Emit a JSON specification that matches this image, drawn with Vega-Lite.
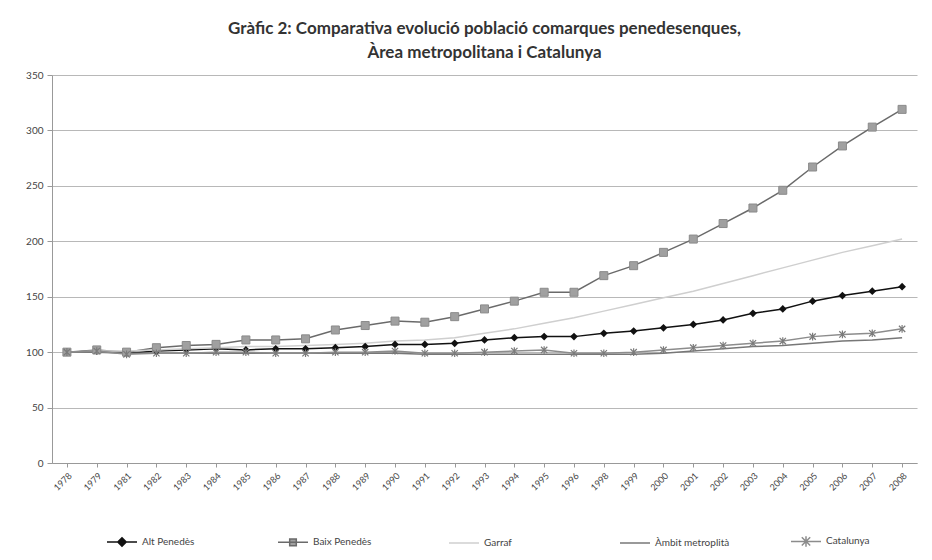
{
  "$schema": "https://vega.github.io/schema/vega-lite/v6.json",
  "width": 865,
  "height": 388,
  "autosize": "none",
  "padding": {"left": 52, "top": 75, "right": 15, "bottom": 97},
  "background": "white",
  "title": {
    "text": ["Gràfic 2: Comparativa evolució població comarques penedesenques,", "Àrea metropolitana i Catalunya"],
    "font": "Lato",
    "fontSize": 17,
    "fontWeight": "bold",
    "color": "#333333",
    "lineHeight": 24,
    "anchor": "middle",
    "offset": 8
  },
  "config": {
    "view": {"stroke": null},
    "axis": {"labelFont": "Lato", "labelColor": "#444444", "labelFontSize": 10, "domainColor": "#999999", "tickColor": "#999999"}
  },
  "data": {
    "values": [
      {"year": "1978", "series": "Alt Penedès", "value": 100},
      {"year": "1979", "series": "Alt Penedès", "value": 101},
      {"year": "1981", "series": "Alt Penedès", "value": 99},
      {"year": "1982", "series": "Alt Penedès", "value": 101},
      {"year": "1983", "series": "Alt Penedès", "value": 102},
      {"year": "1984", "series": "Alt Penedès", "value": 103},
      {"year": "1985", "series": "Alt Penedès", "value": 102},
      {"year": "1986", "series": "Alt Penedès", "value": 103},
      {"year": "1987", "series": "Alt Penedès", "value": 103},
      {"year": "1988", "series": "Alt Penedès", "value": 104},
      {"year": "1989", "series": "Alt Penedès", "value": 105},
      {"year": "1990", "series": "Alt Penedès", "value": 107},
      {"year": "1991", "series": "Alt Penedès", "value": 107},
      {"year": "1992", "series": "Alt Penedès", "value": 108},
      {"year": "1993", "series": "Alt Penedès", "value": 111},
      {"year": "1994", "series": "Alt Penedès", "value": 113},
      {"year": "1995", "series": "Alt Penedès", "value": 114},
      {"year": "1996", "series": "Alt Penedès", "value": 114},
      {"year": "1998", "series": "Alt Penedès", "value": 117},
      {"year": "1999", "series": "Alt Penedès", "value": 119},
      {"year": "2000", "series": "Alt Penedès", "value": 122},
      {"year": "2001", "series": "Alt Penedès", "value": 125},
      {"year": "2002", "series": "Alt Penedès", "value": 129},
      {"year": "2003", "series": "Alt Penedès", "value": 135},
      {"year": "2004", "series": "Alt Penedès", "value": 139},
      {"year": "2005", "series": "Alt Penedès", "value": 146},
      {"year": "2006", "series": "Alt Penedès", "value": 151},
      {"year": "2007", "series": "Alt Penedès", "value": 155},
      {"year": "2008", "series": "Alt Penedès", "value": 159},

      {"year": "1978", "series": "Baix Penedès", "value": 100},
      {"year": "1979", "series": "Baix Penedès", "value": 102},
      {"year": "1981", "series": "Baix Penedès", "value": 100},
      {"year": "1982", "series": "Baix Penedès", "value": 104},
      {"year": "1983", "series": "Baix Penedès", "value": 106},
      {"year": "1984", "series": "Baix Penedès", "value": 107},
      {"year": "1985", "series": "Baix Penedès", "value": 111},
      {"year": "1986", "series": "Baix Penedès", "value": 111},
      {"year": "1987", "series": "Baix Penedès", "value": 112},
      {"year": "1988", "series": "Baix Penedès", "value": 120},
      {"year": "1989", "series": "Baix Penedès", "value": 124},
      {"year": "1990", "series": "Baix Penedès", "value": 128},
      {"year": "1991", "series": "Baix Penedès", "value": 127},
      {"year": "1992", "series": "Baix Penedès", "value": 132},
      {"year": "1993", "series": "Baix Penedès", "value": 139},
      {"year": "1994", "series": "Baix Penedès", "value": 146},
      {"year": "1995", "series": "Baix Penedès", "value": 154},
      {"year": "1996", "series": "Baix Penedès", "value": 154},
      {"year": "1998", "series": "Baix Penedès", "value": 169},
      {"year": "1999", "series": "Baix Penedès", "value": 178},
      {"year": "2000", "series": "Baix Penedès", "value": 190},
      {"year": "2001", "series": "Baix Penedès", "value": 202},
      {"year": "2002", "series": "Baix Penedès", "value": 216},
      {"year": "2003", "series": "Baix Penedès", "value": 230},
      {"year": "2004", "series": "Baix Penedès", "value": 246},
      {"year": "2005", "series": "Baix Penedès", "value": 267},
      {"year": "2006", "series": "Baix Penedès", "value": 286},
      {"year": "2007", "series": "Baix Penedès", "value": 303},
      {"year": "2008", "series": "Baix Penedès", "value": 319},

      {"year": "1978", "series": "Garraf", "value": 100},
      {"year": "1979", "series": "Garraf", "value": 101},
      {"year": "1981", "series": "Garraf", "value": 101},
      {"year": "1982", "series": "Garraf", "value": 102},
      {"year": "1983", "series": "Garraf", "value": 103},
      {"year": "1984", "series": "Garraf", "value": 104},
      {"year": "1985", "series": "Garraf", "value": 105},
      {"year": "1986", "series": "Garraf", "value": 105},
      {"year": "1987", "series": "Garraf", "value": 106},
      {"year": "1988", "series": "Garraf", "value": 107},
      {"year": "1989", "series": "Garraf", "value": 108},
      {"year": "1990", "series": "Garraf", "value": 110},
      {"year": "1991", "series": "Garraf", "value": 111},
      {"year": "1992", "series": "Garraf", "value": 113},
      {"year": "1993", "series": "Garraf", "value": 117},
      {"year": "1994", "series": "Garraf", "value": 121},
      {"year": "1995", "series": "Garraf", "value": 126},
      {"year": "1996", "series": "Garraf", "value": 131},
      {"year": "1998", "series": "Garraf", "value": 137},
      {"year": "1999", "series": "Garraf", "value": 143},
      {"year": "2000", "series": "Garraf", "value": 149},
      {"year": "2001", "series": "Garraf", "value": 155},
      {"year": "2002", "series": "Garraf", "value": 162},
      {"year": "2003", "series": "Garraf", "value": 169},
      {"year": "2004", "series": "Garraf", "value": 176},
      {"year": "2005", "series": "Garraf", "value": 183},
      {"year": "2006", "series": "Garraf", "value": 190},
      {"year": "2007", "series": "Garraf", "value": 196},
      {"year": "2008", "series": "Garraf", "value": 202},

      {"year": "1978", "series": "Àmbit metroplità", "value": 100},
      {"year": "1979", "series": "Àmbit metroplità", "value": 100},
      {"year": "1981", "series": "Àmbit metroplità", "value": 99},
      {"year": "1982", "series": "Àmbit metroplità", "value": 99},
      {"year": "1983", "series": "Àmbit metroplità", "value": 99},
      {"year": "1984", "series": "Àmbit metroplità", "value": 99},
      {"year": "1985", "series": "Àmbit metroplità", "value": 99},
      {"year": "1986", "series": "Àmbit metroplità", "value": 99},
      {"year": "1987", "series": "Àmbit metroplità", "value": 99},
      {"year": "1988", "series": "Àmbit metroplità", "value": 99},
      {"year": "1989", "series": "Àmbit metroplità", "value": 99},
      {"year": "1990", "series": "Àmbit metroplità", "value": 99},
      {"year": "1991", "series": "Àmbit metroplità", "value": 98},
      {"year": "1992", "series": "Àmbit metroplità", "value": 98},
      {"year": "1993", "series": "Àmbit metroplità", "value": 98},
      {"year": "1994", "series": "Àmbit metroplità", "value": 98},
      {"year": "1995", "series": "Àmbit metroplità", "value": 98},
      {"year": "1996", "series": "Àmbit metroplità", "value": 98},
      {"year": "1998", "series": "Àmbit metroplità", "value": 98},
      {"year": "1999", "series": "Àmbit metroplità", "value": 98},
      {"year": "2000", "series": "Àmbit metroplità", "value": 99},
      {"year": "2001", "series": "Àmbit metroplità", "value": 101},
      {"year": "2002", "series": "Àmbit metroplità", "value": 103},
      {"year": "2003", "series": "Àmbit metroplità", "value": 105},
      {"year": "2004", "series": "Àmbit metroplità", "value": 106},
      {"year": "2005", "series": "Àmbit metroplità", "value": 108},
      {"year": "2006", "series": "Àmbit metroplità", "value": 110},
      {"year": "2007", "series": "Àmbit metroplità", "value": 111},
      {"year": "2008", "series": "Àmbit metroplità", "value": 113},

      {"year": "1978", "series": "Catalunya", "value": 100},
      {"year": "1979", "series": "Catalunya", "value": 101},
      {"year": "1981", "series": "Catalunya", "value": 98},
      {"year": "1982", "series": "Catalunya", "value": 99},
      {"year": "1983", "series": "Catalunya", "value": 99},
      {"year": "1984", "series": "Catalunya", "value": 100},
      {"year": "1985", "series": "Catalunya", "value": 100},
      {"year": "1986", "series": "Catalunya", "value": 99},
      {"year": "1987", "series": "Catalunya", "value": 99},
      {"year": "1988", "series": "Catalunya", "value": 100},
      {"year": "1989", "series": "Catalunya", "value": 100},
      {"year": "1990", "series": "Catalunya", "value": 101},
      {"year": "1991", "series": "Catalunya", "value": 99},
      {"year": "1992", "series": "Catalunya", "value": 99},
      {"year": "1993", "series": "Catalunya", "value": 100},
      {"year": "1994", "series": "Catalunya", "value": 101},
      {"year": "1995", "series": "Catalunya", "value": 102},
      {"year": "1996", "series": "Catalunya", "value": 99},
      {"year": "1998", "series": "Catalunya", "value": 99},
      {"year": "1999", "series": "Catalunya", "value": 100},
      {"year": "2000", "series": "Catalunya", "value": 102},
      {"year": "2001", "series": "Catalunya", "value": 104},
      {"year": "2002", "series": "Catalunya", "value": 106},
      {"year": "2003", "series": "Catalunya", "value": 108},
      {"year": "2004", "series": "Catalunya", "value": 110},
      {"year": "2005", "series": "Catalunya", "value": 114},
      {"year": "2006", "series": "Catalunya", "value": 116},
      {"year": "2007", "series": "Catalunya", "value": 117},
      {"year": "2008", "series": "Catalunya", "value": 121}
    ]
  },
  "encoding": {
    "x": {
      "field": "year",
      "type": "ordinal",
      "sort": null,
      "scale": {"padding": 0.5},
      "axis": {"title": null, "labelAngle": -45, "labelFontSize": 9, "labelPadding": 4, "tickSize": 4, "grid": false}
    },
    "y": {
      "field": "value",
      "type": "quantitative",
      "scale": {"domain": [0, 350]},
      "axis": {"title": null, "values": [0, 50, 100, 150, 200, 250, 300, 350], "gridColor": "#b8b8b8", "gridWidth": 1.2, "tickSize": 5, "labelPadding": 4}
    }
  },
  "layer": [
    {
      "mark": {"type": "line", "strokeWidth": 1.5},
      "encoding": {
        "color": {
          "field": "series",
          "type": "nominal",
          "scale": {
            "domain": ["Alt Penedès", "Baix Penedès", "Garraf", "Àmbit metroplità", "Catalunya"],
            "range": ["#111111", "#6a6a6a", "#cfcfcf", "#777777", "#8c8c8c"]
          },
          "legend": {
            "title": null,
            "orient": "none",
            "legendX": 54,
            "legendY": 450,
            "direction": "horizontal",
            "columns": 5,
            "gridAlign": "all",
            "columnPadding": 58,
            "symbolSize": 900,
            "symbolStrokeWidth": 1.5,
            "labelFont": "Lato",
            "labelFontSize": 10,
            "labelColor": "#444444",
            "labelOffset": 4,
            "encode": {
              "symbols": {
                "update": {
                  "shape": {"signal": "datum.value === 'Alt Penedès' ? 'M-1,0L1,0M0,-0.28L0.28,0L0,0.28L-0.28,0Z' : datum.value === 'Baix Penedès' ? 'M-1,0L1,0M-0.22,-0.22L0.22,-0.22L0.22,0.22L-0.22,0.22Z' : datum.value === 'Catalunya' ? 'M-1,0L1,0M-0.28,-0.28L0.28,0.28M-0.28,0.28L0.28,-0.28M0,-0.35L0,0.35' : 'M-1,0L1,0'"},
                  "fill": {"signal": "datum.value === 'Alt Penedès' ? '#111111' : datum.value === 'Baix Penedès' ? '#a0a0a0' : 'transparent'"},
                  "stroke": {"scale": "color", "field": "value"},
                  "strokeWidth": {"value": 1.5}
                }
              }
            }
          }
        }
      }
    },
    {
      "transform": [{"filter": "datum.series === 'Alt Penedès'"}],
      "mark": {"type": "point", "shape": "diamond", "filled": true, "color": "#111111", "size": 60, "opacity": 1},
      "encoding": {}
    },
    {
      "transform": [{"filter": "datum.series === 'Baix Penedès'"}],
      "mark": {"type": "point", "shape": "square", "filled": true, "fill": "#a0a0a0", "stroke": "#8a8a8a", "strokeWidth": 1, "size": 64, "opacity": 1},
      "encoding": {}
    },
    {
      "transform": [{"filter": "datum.series === 'Catalunya'"}],
      "mark": {"type": "point", "shape": "M-1,-1L1,1M-1,1L1,-1M0,-1.2L0,1.2", "filled": false, "stroke": "#7a7a7a", "strokeWidth": 1.2, "size": 40, "opacity": 1},
      "encoding": {}
    }
  ]
}
